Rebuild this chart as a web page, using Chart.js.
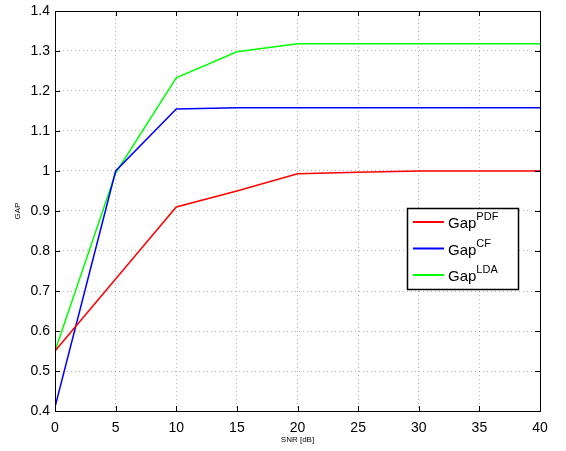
<!DOCTYPE html>
<html>
<head>
<meta charset="utf-8">
<script src="https://cdn.jsdelivr.net/npm/chart.js@4/dist/chart.umd.min.js"></script>
<style>
    html, body { margin: 0; padding: 0; background: #fff; }
    #wrap { width: 566px; height: 451px; }
</style>
</head>
<body>
<div id="wrap"><canvas id="gapChart" width="566" height="451"></canvas></div>
<script>
// SNR values (x axis) and gap values for each method
const snr = [0, 5, 10, 15, 20, 25, 30, 35, 40];
const gapPdf = [0.55, 0.73, 0.91, 0.95, 0.993, 0.997, 1.0, 1.0, 1.0];
const gapCf = [0.41, 1.0, 1.155, 1.158, 1.158, 1.158, 1.158, 1.158, 1.158];
const gapLda = [0.55, 0.995, 1.233, 1.298, 1.318, 1.318, 1.318, 1.318, 1.318];

const seriesNames = ['Gap', 'Gap', 'Gap'];
const seriesSup = ['PDF', 'CF', 'LDA'];
const seriesColors = ['#ff0000', '#0000ff', '#00ff00'];

const xTicks = [0, 5, 10, 15, 20, 25, 30, 35, 40];
const yTicks = [0.4, 0.5, 0.6, 0.7, 0.8, 0.9, 1, 1.1, 1.2, 1.3, 1.4];

const FONT = 'Helvetica, "Liberation Sans", Arial, sans-serif';

function toPoints(values) {
    return snr.map((x, i) => ({ x: x, y: values[i] }));
}

// matlab-like frame: black box with inward ticks on all sides, plus legend
const framePlugin = {
    id: 'frame',
    afterDraw(chart) {
        const { ctx, chartArea: a, scales } = chart;
        ctx.save();
        ctx.strokeStyle = '#000';
        ctx.lineWidth = 1;
        ctx.strokeRect(a.left + 0.5, a.top + 0.5, a.right - a.left, a.bottom - a.top);

        const len = 5;
        ctx.beginPath();
        xTicks.forEach(v => {
            const px = Math.round(scales.x.getPixelForValue(v)) + 0.5;
            ctx.moveTo(px, a.bottom);
            ctx.lineTo(px, a.bottom - len);
            ctx.moveTo(px, a.top);
            ctx.lineTo(px, a.top + len);
        });
        yTicks.forEach(v => {
            const py = Math.round(scales.y.getPixelForValue(v)) + 0.5;
            ctx.moveTo(a.left, py);
            ctx.lineTo(a.left + len, py);
            ctx.moveTo(a.right, py);
            ctx.lineTo(a.right - len, py);
        });
        ctx.stroke();

        // legend box
        const lx = 407, ly = 208, lw = 111, lh = 81;
        ctx.fillStyle = '#fff';
        ctx.fillRect(lx, ly, lw, lh);
        ctx.strokeStyle = '#000';
        ctx.lineWidth = 1.5;
        ctx.strokeRect(lx + 0.5, ly + 0.5, lw, lh);

        chart.data.datasets.forEach((ds, i) => {
            const y = ly + 14 + i * 26.5;
            ctx.strokeStyle = ds.borderColor;
            ctx.lineWidth = 2;
            ctx.beginPath();
            ctx.moveTo(lx + 6, y);
            ctx.lineTo(lx + 37, y);
            ctx.stroke();

            ctx.fillStyle = '#000';
            ctx.textBaseline = 'middle';
            ctx.textAlign = 'left';
            ctx.font = '15px ' + FONT;
            ctx.fillText(seriesNames[i], lx + 41, y + 2);
            const w = ctx.measureText(seriesNames[i]).width;
            ctx.font = '11px ' + FONT;
            ctx.fillText(seriesSup[i], lx + 41 + w, y - 5);
        });
        ctx.restore();
    }
};

const ctx = document.getElementById('gapChart').getContext('2d');

new Chart(ctx, {
    type: 'line',
    data: {
        datasets: seriesSup.map((s, i) => ({
            label: seriesNames[i] + s,
            data: toPoints([gapPdf, gapCf, gapLda][i]),
            borderColor: seriesColors[i],
            backgroundColor: seriesColors[i],
            borderWidth: 1.5,
            pointRadius: 0,
            tension: 0,
            fill: false
        }))
    },
    options: {
        responsive: false,
        animation: false,
        layout: {
            padding: { top: 11, right: 26, left: 0, bottom: 0 }
        },
        plugins: {
            legend: { display: false },
            tooltip: { enabled: false }
        },
        scales: {
            x: {
                type: 'linear',
                min: 0,
                max: 40,
                afterBuildTicks: scale => {
                    scale.ticks = xTicks.map(v => ({ value: v }));
                },
                afterFit: scale => {
                    scale.height = 40;
                    scale.paddingLeft = 0;
                    scale.paddingRight = 0;
                },
                grid: {
                    color: 'rgba(0, 0, 0, 0.3)',
                    lineWidth: 1,
                    drawTicks: false
                },
                border: {
                    display: false,
                    dash: [1, 3]
                },
                ticks: {
                    color: '#000',
                    padding: 9,
                    font: { family: FONT, size: 14 },
                    maxRotation: 0
                },
                title: {
                    display: true,
                    text: 'SNR [dB]',
                    color: '#000',
                    font: { family: FONT, size: 8 },
                    padding: { top: 0, bottom: 6 }
                }
            },
            y: {
                type: 'linear',
                min: 0.4,
                max: 1.4,
                afterBuildTicks: scale => {
                    scale.ticks = yTicks.map(v => ({ value: v }));
                },
                afterFit: scale => {
                    scale.width = 55;
                    scale.paddingTop = 0;
                    scale.paddingBottom = 0;
                },
                grid: {
                    color: 'rgba(0, 0, 0, 0.3)',
                    lineWidth: 1,
                    drawTicks: false
                },
                border: {
                    display: false,
                    dash: [1, 3]
                },
                ticks: {
                    color: '#000',
                    padding: 5,
                    font: { family: FONT, size: 14 },
                    callback: v => String(Number(v.toFixed(1)))
                },
                title: {
                    display: true,
                    text: 'GAP',
                    color: '#000',
                    font: { family: FONT, size: 8 },
                    padding: { top: 13, bottom: 0 }
                }
            }
        }
    },
    plugins: [framePlugin]
});
</script>
</body>
</html>
